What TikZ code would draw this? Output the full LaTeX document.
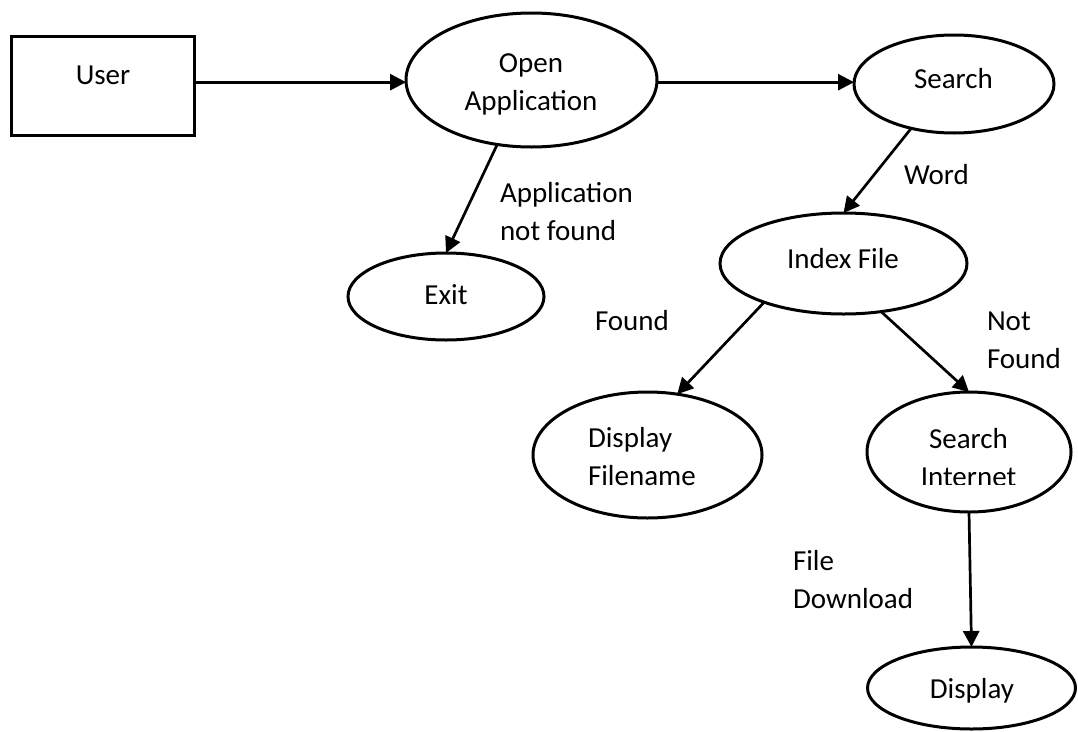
\documentclass[tikz,border=0pt]{standalone}
\usepackage{fontspec}
\setmainfont{Carlito}
\usetikzlibrary{shapes.geometric,arrows.meta}

\begin{document}
\begin{tikzpicture}[x=1pt,y=-1pt,
  every node/.style={font=\fontsize{29}{37.5}\selectfont, inner sep=0pt, outer sep=0pt},
  proc/.style={ellipse, draw, line width=3pt},
  entity/.style={rectangle, draw, line width=3pt},
  txt/.style={anchor=base, align=center},
  lbl/.style={anchor=base west, align=left},
  flow/.style={line width=2.7pt, -{Triangle[length=16pt,width=16pt]}}
]
\useasboundingbox[fill=white] (0,0) rectangle (1078,731);

% shapes
\node[entity, minimum width=183pt, minimum height=99pt] (user) at (102.5,85.5) {};
\node[proc, minimum width=251pt, minimum height=134pt] (open) at (531.5,80) {};
\node[proc, minimum width=200pt, minimum height=98pt] (search) at (954,84) {};
\node[proc, minimum width=196pt, minimum height=87pt] (exit) at (446,296.5) {};
\node[proc, minimum width=247pt, minimum height=101pt] (index) at (843.5,263.5) {};
\node[proc, minimum width=229pt, minimum height=126pt] (dfile) at (647.5,455) {};
\node[proc, minimum width=204pt, minimum height=120pt] (inet) at (969,452) {};
\node[proc, minimum width=208pt, minimum height=82pt] (disp) at (971.5,688) {};

% texts inside the shapes (a multi-line node sits on its last baseline)
\node[txt] (usertxt) at (103,84) {User};
\node[txt] (opentxt) at (531,110) {Open\\Application};
\node[txt] (searchtxt) at (953.5,88) {Search};
\node[txt] (exittxt) at (446,304) {Exit};
\node[txt] (indextxt) at (843,268) {Index File};
\node[lbl] (dfiletxt) at (588,485) {Display\\Filename};
\begin{scope}
  \clip (880,400) rectangle (1060,484);
  \node[txt] (inettxt) at (968.5,486) {Search\\Internet};
\end{scope}
\node[txt] (disptxt) at (972,698) {Display};

% flow labels
\node[lbl] (lnf) at (500,240) {Application\\not found};
\node[lbl] (lword) at (904,184) {Word};
\node[lbl] (lfound) at (595,330) {Found};
\node[lbl] (lnot) at (987,368) {Not\\Found};
\node[lbl] (ldl) at (793,608) {File\\Download};

% connectors
\draw[flow] (user.east |- open.181.4) -- (open.181.4);
\draw[flow] (open.-1.4) -- (open.-1.4 -| search.west);
\draw[flow] (open.242.8) -- (exit.north);
\draw[flow] (search.226.2) -- (index.north);
\draw[flow] (index.206.7) -- (dfile.64.9);
\draw[flow] (index.-52.1) -- (inet.north);
\draw[flow] (inet.south) -- (disp.north);
\end{tikzpicture}
\end{document}
